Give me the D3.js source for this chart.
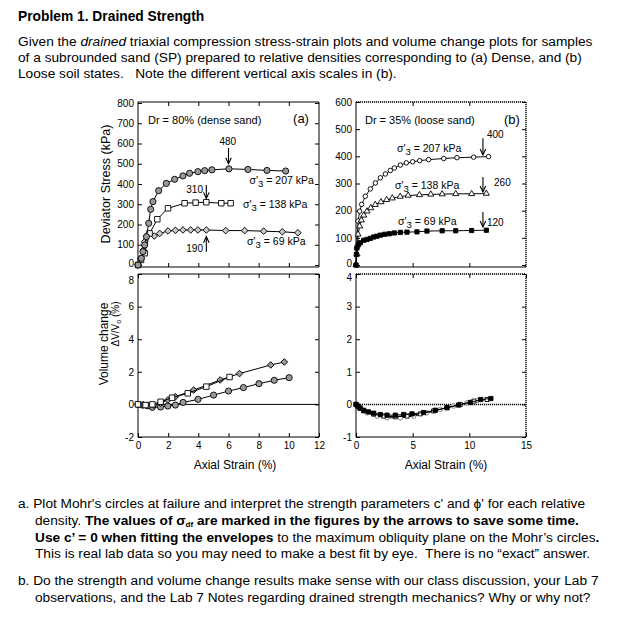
<!DOCTYPE html>
<meta charset="utf-8">
<script src="https://d3js.org/d3.v7.min.js"></script>
<style>
  body { margin: 0; background: #fff; }
  text { font-family: "Liberation Sans", Arial, Helvetica, sans-serif; fill: #000; }
</style>
<div id="chart"></div>
<script>

// ---------- data ----------
// (a) dense sand, Dr = 80% : deviator stress (kPa) vs axial strain (%)
var denseStrain207 = [0, 0.22, 0.33, 0.44, 0.56, 0.71, 0.84, 0.99, 1.37, 1.88, 2.43, 2.98, 3.42, 3.97, 4.42, 4.9, 6.03, 7.29, 8.55, 9.79];
var denseStress207 = [0, 33, 66, 99, 140, 206, 275, 313, 367, 403, 423, 440, 453, 461, 466, 470, 475, 472, 467, 464];
var denseStrain138 = [0, 0.2, 0.44, 0.77, 1.28, 1.99, 3.09, 3.82, 4.53, 5.52, 6.14];
var denseStress138 = [0, 25, 58, 156, 226, 280, 305, 308, 310, 305, 305];
var denseStrain69  = [0, 0.2, 0.35, 0.44, 0.64, 1.08, 1.44, 1.99, 2.48, 2.98, 3.49, 3.97, 4.53, 5.81, 7.07, 8.33, 9.57, 10.6];
var denseStress69  = [0, 30, 74, 115, 148, 143, 156, 168, 171, 173, 173, 173, 173, 170, 170, 167, 164, 159];

// (a) volume change dV/Vo (%)
var denseVolStrain207 = [0, 0.29, 0.62, 0.95, 1.49, 1.98, 2.48, 2.99, 3.98, 5.01, 6.0, 6.99, 8.02, 9.03, 10.02];
var denseVol207       = [0, -0.04, -0.08, -0.18, -0.16, -0.1, -0.04, 0.12, 0.31, 0.57, 0.82, 1.03, 1.27, 1.48, 1.64];
var denseVolStrain138 = [0, 0.5, 0.95, 1.5, 2.26, 3.3, 4.53, 6.07];
var denseVol138       = [0, -0.04, 0, 0.16, 0.41, 0.68, 1.09, 1.68];
var denseVolStrain69  = [0, 0.35, 0.73, 1.05, 1.49, 1.98, 2.48, 3.69, 5.45, 6.73, 8.8, 9.7];
var denseVol69        = [0, -0.02, -0.08, -0.04, 0.08, 0.27, 0.47, 0.88, 1.5, 1.89, 2.42, 2.6];

// (b) loose sand, Dr = 35%
var looseStrain207 = [0, 0.05, 0.18, 0.32, 0.5, 0.82, 1.26, 1.71, 2.15, 2.59, 3.03, 3.38, 3.91, 4.44, 5.0, 5.62, 6.41, 7.74, 8.91, 10.38, 11.7];
var looseStress207 = [0, 60, 162, 198, 223, 253, 280, 302, 321, 335, 348, 357, 368, 376, 380, 384, 388, 392, 395, 397, 399];
var looseStrain138 = [0, 0.09, 0.18, 0.32, 0.47, 0.68, 0.97, 1.3, 1.7, 2.2, 2.7, 3.2, 3.9, 4.6, 5.6, 6.6, 7.6, 8.8, 10.2, 11.5];
var looseStress138 = [0, 40, 113, 143, 165, 183, 198, 210, 222, 232, 240, 246, 252, 256, 258, 260, 261, 262, 262, 263];
var looseStrain69  = [0, 0.03, 0.09, 0.2, 0.38, 0.68, 0.97, 1.26, 1.56, 1.85, 2.15, 2.53, 2.94, 3.38, 3.91, 4.5, 5.38, 6.26, 7.6, 8.8, 10.2, 11.5];
var looseStress69  = [0, 39, 64, 74, 82, 91, 94, 98, 103, 106, 110, 113, 115, 118, 120, 121, 122, 125, 126, 126, 127, 128];

var looseVolStrain69  = [0, 0.15, 0.38, 0.68, 1.1, 1.56, 2.15, 2.74, 3.47, 4.2, 4.94, 5.97, 7.0, 8.03, 9.06, 10.1, 11.0, 11.9];
var looseVol69        = [0, -0.05, -0.12, -0.18, -0.23, -0.27, -0.31, -0.33, -0.33, -0.31, -0.29, -0.25, -0.18, -0.1, -0.02, 0.06, 0.15, 0.18];
var looseVolStrain138 = [0, 0.3, 0.68, 1.56, 2.44, 3.47, 4.5, 5.68, 6.85, 8.03, 9.2, 10.4, 11.56];
var looseVol138       = [0, -0.1, -0.2, -0.3, -0.36, -0.38, -0.36, -0.29, -0.2, -0.1, 0, 0.1, 0.15];
var looseVolStrain207 = [0, 0.4, 0.97, 1.85, 2.74, 3.91, 5.09, 6.26, 7.44, 8.62, 9.79, 10.7];
var looseVol207       = [0, -0.12, -0.26, -0.36, -0.41, -0.41, -0.36, -0.26, -0.15, -0.05, 0.05, 0.12];

// failure deviator stresses marked by arrows
var denseFailure = [480, 310, 190];
var looseFailure = [400, 260, 120];

// tick values
var denseStressTicks = [0, 100, 200, 300, 400, 500, 600, 700, 800];
var looseStressTicks = [0, 100, 200, 300, 400, 500, 600];
var denseVolTicks = [-2, 0, 2, 4, 6, 8];
var looseVolTicks = [-1, 0, 1, 2, 3, 4];
var denseStrainTicks = [0, 2, 4, 6, 8, 10, 12];
var looseStrainTicks = [0, 5, 10, 15];

// ---------- page ----------
var svg = d3.select("#chart").append("svg")
    .attr("width", 643)
    .attr("height", 631);

// header text
svg.append("text").attr("x", 18).attr("y", 21)
    .style("font-size", "13.8px").style("font-weight", "bold")
    .text("Problem 1. Drained Strength");

var para = svg.append("g").style("font-size", "13.7px");
var l1 = para.append("text").attr("x", 18).attr("y", 46);
l1.append("tspan").text("Given the ");
l1.append("tspan").style("font-style", "italic").text("drained");
l1.append("tspan").text(" triaxial compression stress-strain plots and volume change plots for samples");
para.append("text").attr("x", 18).attr("y", 62)
    .text("of a subrounded sand (SP) prepared to relative densities corresponding to (a) Dense, and (b)");
para.append("text").attr("x", 18).attr("y", 78).attr("xml:space", "preserve")
    .text("Loose soil states.   Note the different vertical axis scales in (b).");

// ---------- panels ----------
function makePanel(o) {
  var g = svg.append("g");
  var x = d3.scaleLinear().domain(o.xDom).range([o.l, o.r]);
  var y = d3.scaleLinear().domain(o.yDom).range(o.yRange);

  // inner ticks on all four sides
  var left = g.append("g").attr("transform", "translate(" + o.l + ",0)")
    .call(d3.axisLeft(y).tickValues(o.yTicks).tickSize(-4).tickPadding(4)
      .tickFormat(function(d) { return String(d); }));
  g.append("g").attr("transform", "translate(" + o.r + ",0)")
    .call(d3.axisRight(y).tickValues(o.yTicks).tickSize(-4).tickFormat(""));
  g.append("g").attr("transform", "translate(0," + o.b + ")")
    .call(d3.axisBottom(x).tickValues(o.xTicks).tickSize(-4).tickPadding(5)
      .tickFormat(o.xLabels ? function(d) { return String(d); } : ""));
  g.append("g").attr("transform", "translate(0," + o.t + ")")
    .call(d3.axisTop(x).tickValues(o.xTicks).tickSize(-4).tickFormat(""));
  g.selectAll(".domain").remove();
  g.selectAll(".tick line").attr("stroke", "#000");
  g.selectAll(".tick text").style("font-size", "10px")
    .style("font-family", "Liberation Sans, Arial, sans-serif").attr("fill", "#000");
  // nudge the end labels so the stacked panels' labels do not collide
  if (o.nudge) {
    left.selectAll(".tick text").filter(function(d) { return d in o.nudge; })
      .attr("y", function(d) { return o.nudge[d]; });
  }

  // frame
  var dash = o.dotted ? "1.2,0.8" : null;
  var sw = o.dotted ? 1.4 : 1;
  g.append("line").attr("x1", o.l).attr("x2", o.l).attr("y1", o.t).attr("y2", o.b).attr("stroke", "#000");
  g.append("line").attr("x1", o.l).attr("x2", o.r).attr("y1", o.b).attr("y2", o.b).attr("stroke", "#000");
  g.append("line").attr("x1", o.l).attr("x2", o.r).attr("y1", o.t).attr("y2", o.t)
    .attr("stroke", "#000").attr("stroke-width", sw).attr("stroke-dasharray", dash);
  g.append("line").attr("x1", o.r).attr("x2", o.r).attr("y1", o.t).attr("y2", o.b)
    .attr("stroke", "#000").attr("stroke-width", sw).attr("stroke-dasharray", dash);

  return { g: g, x: x, y: y };
}

var pA = makePanel({ l: 138, r: 319, t: 102, b: 267, xDom: [0, 12], yDom: [0, 800], yRange: [265, 103],
  yTicks: denseStressTicks, xTicks: [2, 4, 6, 8, 10], xLabels: false, nudge: { 0: -2 } });
var pAv = makePanel({ l: 138, r: 319, t: 274, b: 437, xDom: [0, 12], yDom: [-2, 8], yRange: [437, 274],
  yTicks: denseVolTicks, xTicks: denseStrainTicks, xLabels: true, nudge: { 8: 6 } });
var pB = makePanel({ l: 356, r: 526, t: 102, b: 267, xDom: [0, 15], yDom: [0, 600], yRange: [265, 102],
  yTicks: looseStressTicks, xTicks: [5, 10], xLabels: false, dotted: true, nudge: { 0: -2 } });
var pBv = makePanel({ l: 356, r: 526, t: 274, b: 437, xDom: [0, 15], yDom: [-1, 4], yRange: [437, 274],
  yTicks: looseVolTicks, xTicks: looseStrainTicks, xLabels: true, dotted: true, nudge: { 4: 3 } });

// zero lines in the volume plots
pAv.g.append("line").attr("x1", pAv.x(0)).attr("x2", pAv.x(12))
  .attr("y1", pAv.y(0)).attr("y2", pAv.y(0)).attr("stroke", "#000");
pBv.g.append("line").attr("x1", pBv.x(0)).attr("x2", pBv.x(15))
  .attr("y1", pBv.y(0)).attr("y2", pBv.y(0)).attr("stroke", "#000")
  .attr("stroke-width", 1.5).attr("stroke-dasharray", "1.2,0.8");

// ---------- series ----------
function series(p, xs, ys, m) {
  var pts = xs.map(function(v, i) { return [v, ys[i]]; });
  var line = d3.line()
    .x(function(d) { return p.x(d[0]); })
    .y(function(d) { return p.y(d[1]); })
    .curve(m.curve || d3.curveLinear);
  p.g.append("path").datum(pts).attr("d", line)
    .attr("fill", "none").attr("stroke", "#000").attr("stroke-width", 1);
  var sym = d3.symbol().type(m.type).size(m.size);
  p.g.append("g").selectAll("path").data(pts).enter().append("path")
    .attr("d", sym)
    .attr("transform", function(d) {
      return "translate(" + p.x(d[0]) + "," + p.y(d[1]) + ")" + (m.rotate ? " rotate(45)" : "");
    })
    .attr("fill", m.fill).attr("stroke", m.stroke || "#000").attr("stroke-width", 0.9);
}

series(pA, denseStrain69, denseStress69, { type: d3.symbolSquare, size: 22, rotate: true, fill: "#c8c8c8" });
series(pA, denseStrain138, denseStress138, { type: d3.symbolSquare, size: 30, fill: "#fff" });
series(pA, denseStrain207, denseStress207, { type: d3.symbolCircle, size: 30, fill: "#9a9a9a" });

series(pAv, denseVolStrain207, denseVol207, { type: d3.symbolCircle, size: 30, fill: "#9a9a9a" });
series(pAv, denseVolStrain69, denseVol69, { type: d3.symbolSquare, size: 22, rotate: true, fill: "#9a9a9a" });
series(pAv, denseVolStrain138, denseVol138, { type: d3.symbolSquare, size: 30, fill: "#fff" });

series(pB, looseStrain207, looseStress207, { type: d3.symbolCircle, size: 16, fill: "#fff", curve: d3.curveBasis });
series(pB, looseStrain138, looseStress138, { type: d3.symbolTriangle, size: 16, fill: "#fff", curve: d3.curveBasis });
series(pB, looseStrain69, looseStress69, { type: d3.symbolSquare, size: 18, fill: "#000", curve: d3.curveBasis });

series(pBv, looseVolStrain207, looseVol207, { type: d3.symbolCircle, size: 16, fill: "#fff", stroke: "#777" });
series(pBv, looseVolStrain138, looseVol138, { type: d3.symbolSquare, size: 16, fill: "#fff" });
series(pBv, looseVolStrain69, looseVol69, { type: d3.symbolSquare, size: 18, fill: "#000" });

// ---------- annotations ----------
function label(p, xv, yv, parts, size, anchor) {
  var t = p.g.append("text").attr("x", p.x(xv)).attr("y", p.y(yv))
    .style("font-size", (size || 11) + "px").attr("text-anchor", anchor || "start");
  parts.forEach(function(s) {
    if (typeof s === "string") t.append("tspan").text(s);
    else t.append("tspan").attr("dy", s.dy).style("font-size", s.size + "px").text(s.t);
  });
  return t;
}
function sigma(p, xv, yv, val) {
  label(p, xv, yv, ["\u03c3'", { t: "3", dy: 3, size: 9.5 }, { t: " = " + val + " kPa", dy: -3, size: 10.5 }], 10.5);
}
function arrow(p, xv, tip, tail) {
  var x = p.x(xv), y1 = p.y(tail), y2 = p.y(tip), s = y2 > y1 ? -1 : 1;
  p.g.append("line").attr("x1", x).attr("x2", x).attr("y1", y1).attr("y2", y2)
    .attr("stroke", "#000").attr("stroke-width", 1.1);
  p.g.append("path")
    .attr("d", "M" + (x - 2.8) + "," + (y2 + s * 6) + "L" + x + "," + y2 + "L" + (x + 2.8) + "," + (y2 + s * 6))
    .attr("fill", "none").attr("stroke", "#000").attr("stroke-width", 1.1);
}

label(pA, 0.66, 696, ["Dr = 80% (dense sand)"]);
label(pA, 10.28, 701, ["(a)"], 13);
sigma(pA, 7.4, 400, 207);
sigma(pA, 6.96, 281, 138);
sigma(pA, 7.23, 99, 69);
arrow(pA, 6.0, 500, 578);
label(pA, 5.95, 593, [String(denseFailure[0])], 10, "middle");
arrow(pA, 4.53, 329, 395);
label(pA, 4.31, 356, [String(denseFailure[1])], 10, "end");
arrow(pA, 4.53, 140, 66);
label(pA, 4.31, 62, [String(denseFailure[2])], 10, "end");

label(pB, 0.79, 519, ["Dr = 35% (loose sand)"]);
label(pB, 13.06, 519, ["(b)"], 13);
sigma(pB, 3.62, 416, 207);
sigma(pB, 3.44, 281, 138);
sigma(pB, 3.71, 146, 69);
arrow(pB, 11.2, 405, 467);
label(pB, 11.56, 467, [String(looseFailure[0])], 10);
arrow(pB, 11.2, 269, 324);
label(pB, 12.18, 289, [String(looseFailure[1])], 10);
arrow(pB, 11.2, 140, 195);
label(pB, 11.56, 144, [String(looseFailure[2])], 10);

// axis titles
svg.append("text").attr("transform", "translate(110,184) rotate(-90)")
  .attr("text-anchor", "middle").style("font-size", "12.5px").text("Deviator Stress (kPa)");
svg.append("text").attr("transform", "translate(108,344) rotate(-90)")
  .attr("text-anchor", "middle").style("font-size", "12px").text("Volume change");
var dv = svg.append("text").attr("transform", "translate(119,324) rotate(-90)")
  .attr("text-anchor", "middle").style("font-size", "10px");
dv.append("tspan").text("\u0394V/V");
dv.append("tspan").attr("dy", 1.5).style("font-size", "7px").text("o");
dv.append("tspan").attr("dy", -1.5).text(" (%)");
svg.append("text").attr("x", 235).attr("y", 469).attr("text-anchor", "middle")
  .style("font-size", "12px").text("Axial Strain (%)");
svg.append("text").attr("x", 446).attr("y", 469).attr("text-anchor", "middle")
  .style("font-size", "12px").text("Axial Strain (%)");

// ---------- questions ----------
var q = svg.append("g").style("font-size", "13.7px");
q.append("text").attr("x", 18).attr("y", 508)
  .text("a. Plot Mohr's circles at failure and interpret the strength parameters c' and \u03d5' for each relative");
var q2 = q.append("text").attr("x", 35).attr("y", 525);
q2.append("tspan").text("density. ");
q2.append("tspan").style("font-weight", "bold").text("The values of \u03c3");
q2.append("tspan").style("font-weight", "bold").style("font-size", "8px").attr("dy", 2).text("df");
q2.append("tspan").style("font-weight", "bold").attr("dy", -2)
  .text(" are marked in the figures by the arrows to save some time.");
var q3 = q.append("text").attr("x", 35).attr("y", 542);
q3.append("tspan").style("font-weight", "bold").text("Use c\u2019 = 0 when fitting the envelopes");
q3.append("tspan").text(" to the maximum obliquity plane on the Mohr\u2019s circles");
q3.append("tspan").style("font-weight", "bold").text(".");
q.append("text").attr("x", 35).attr("y", 558).attr("xml:space", "preserve")
  .text("This is real lab data so you may need to make a best fit by eye.  There is no \u201cexact\u201d answer.");
q.append("text").attr("x", 18).attr("y", 585)
  .text("b. Do the strength and volume change results make sense with our class discussion, your Lab 7");
q.append("text").attr("x", 35).attr("y", 602)
  .text("observations, and the Lab 7 Notes regarding drained strength mechanics? Why or why not?");

</script>
